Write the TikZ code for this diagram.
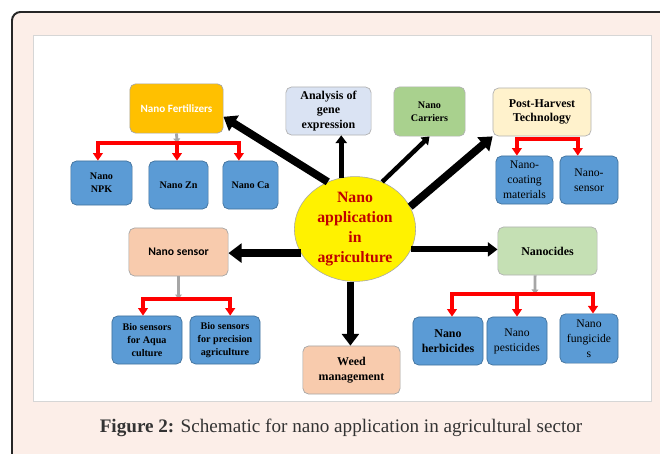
\documentclass[tikz,border=0pt]{standalone}
\usepackage{fontspec}
\setmainfont{Liberation Serif}
\newfontfamily\calibri{Carlito}
\usetikzlibrary{arrows.meta,positioning,calc,shapes.geometric}
\definecolor{framebg}{HTML}{FCEEE8}
\definecolor{framedraw}{HTML}{262626}
\definecolor{panelline}{HTML}{D6D6D6}
\definecolor{fertfill}{HTML}{FFC000}
\definecolor{bluefill}{HTML}{5B9BD5}
\definecolor{bluedraw}{HTML}{41719C}
\definecolor{genefill}{HTML}{DAE3F3}
\definecolor{carrfill}{HTML}{A9D18E}
\definecolor{postfill}{HTML}{FFF2CC}
\definecolor{peachfill}{HTML}{F8CBAD}
\definecolor{cidefill}{HTML}{C5E0B4}
\definecolor{corered}{HTML}{C00000}
\definecolor{captext}{HTML}{333333}

\begin{document}
\begin{tikzpicture}[x=0.025cm, y=-0.025cm,
  box/.style={draw=black!35, rounded corners=4pt, line width=0.5pt, align=center, inner sep=1pt, minimum height=1.2cm},
  leaf/.style={box, fill=bluefill, draw=bluedraw},
  sb/.style={font=\fontsize{7.2pt}{9.3pt}\selectfont\bfseries},
  mb/.style={font=\fontsize{8.5pt}{10.4pt}\selectfont\bfseries},
  mr/.style={font=\fontsize{8.3pt}{10.6pt}\selectfont},
  cb/.style={font=\calibri\fontsize{#1}{10pt}\selectfont\bfseries},
  blk/.style={line width=#1, black, -{Triangle[length=0pt 1.6, width=0pt 2.3]}},
  redarr/.style={line width=3pt, red, line join=miter, -{Triangle[length=0pt 1.8, width=0pt 2.3]}},
  redboth/.style={redarr, {Triangle[length=0pt 1.8, width=0pt 2.3]}-{Triangle[length=0pt 1.8, width=0pt 2.3]}},
  greyarr/.style={line width=2pt, black!35, -{Triangle[length=0pt 1.6, width=0pt 2.4]}}
]
\useasboundingbox (0,0) rectangle (660,454);
\clip (0,0) rectangle (660,454);
\draw[fill=framebg, draw=framedraw, line width=1.4pt, rounded corners=6pt] (12,12) rectangle (690,490);
\draw[fill=white, draw=panelline, line width=0.6pt] (33,35) rectangle (651,401);

\node[box, fill=fertfill, minimum width=2.33cm, minimum height=1.23cm, text=white, cb=7.9pt] (fert) at (176.5,108.5) {Nano Fertilizers};
\node[box, fill=genefill, draw=black!30, minimum width=2.13cm, mb] (gene) at (328.5,111) {Analysis of\\gene\\expression};
\node[box, fill=carrfill, draw=black!30, minimum width=1.78cm, minimum height=1.23cm, sb] (carr) at (429.5,111.5) {Nano\\Carriers};
\node[box, fill=postfill, draw=black!30, minimum width=2.45cm, mb] (post) at (542,112) {Post-Harvest\\Technology};
\node[leaf, minimum width=1.53cm, minimum height=1.1cm, sb] (npk) at (101.5,183) {Nano\\NPK};
\node[leaf, minimum width=1.48cm, sb] (zn) at (178.5,185) {Nano Zn};
\node[leaf, minimum width=1.38cm, sb] (ca) at (250.5,185) {Nano Ca};
\node[leaf, minimum width=1.43cm, mr] (coat) at (524.5,180) {Nano-\\coating\\materials};
\node[leaf, minimum width=1.45cm, mr] (nsen) at (589,180) {Nano-\\sensor};
\node[box, fill=peachfill, minimum width=2.48cm, cb=8.3pt] (sens) at (178.5,252) {Nano sensor};
\node[leaf, minimum width=1.75cm, sb] (aqua) at (147,340) {Bio sensors\\for Aqua\\culture};
\node[leaf, minimum width=1.75cm, sb] (prec) at (225,340) {Bio sensors\\for precision\\agriculture};
\node[box, fill=peachfill, minimum width=2.43cm, mb] (weed) at (351.5,370) {Weed\\management};
\node[box, fill=cidefill, draw=black!30, minimum width=2.48cm, mb] (cide) at (547.5,251) {Nanocides};
\node[leaf, minimum width=1.75cm, mb] (herb) at (448,341) {Nano\\herbicides};
\node[leaf, minimum width=1.5cm, mr] (pest) at (517,341) {Nano\\pesticides};
\node[leaf, minimum width=1.45cm, minimum height=1.23cm, mr] (fung) at (589,338.5) {Nano\\fungicide\\s};
\node[ellipse, draw=black!35, fill=yellow, minimum width=3.03cm, minimum height=2.48cm, inner sep=0pt, text=corered, align=center, font=\fontsize{11.2pt}{14.3pt}\selectfont\bfseries] (core) at (355,229) {Nano\\application\\in\\agriculture};

\draw[blk=5.5pt] (core.120) -- (fert.-10);
\draw[blk=3.4pt] (core.105) -- (core.105 |- gene.south);
\draw[blk=3.2pt] (core.60) -- (carr.south);
\draw[blk=5.5pt] (core.22) -- (post.south west);
\draw[blk=5.8pt] (core.204) -- (core.204 -| sens.east);
\draw[blk=4.3pt] (core.-20) -- (core.-20 -| cide.west);
\draw[blk=5.2pt] (core.265) -- (core.265 |- weed.north);

\coordinate (fbar) at (177,143);
\draw[greyarr] (fert.south) -- (fbar);
\draw[redboth] ([xshift=-0.09cm]npk.north) |- (fbar) -| ([xshift=-0.29cm]ca.north);
\draw[redarr] (fbar) -- (fbar |- zn.north);

\coordinate (pbar) at (547,139);
\draw[redboth] ([xshift=-0.19cm]coat.north) |- (pbar) -| ([xshift=-0.28cm]nsen.north);

\coordinate (sbar) at (sens.south |- 0,299);
\draw[greyarr] (sens.south) -- (sbar);
\draw[redboth] ([xshift=-0.1cm]aqua.north) |- (sbar) -| ([xshift=0.13cm]prec.north);

\coordinate (cbar) at (535,294);
\draw[greyarr] ([xshift=-0.31cm]cide.south) -- (cbar);
\draw[redboth] ([xshift=0.1cm]herb.north) |- (cbar) -| ([xshift=0.1cm]fung.north);
\draw[redarr] (pest.north |- cbar) -- (pest.north);

\node[font=\fontsize{13.6pt}{16pt}\selectfont, text=captext, inner sep=0pt] (cap) at (341,428) {\textbf{Figure 2:} Schematic for nano application in agricultural sector};
\end{tikzpicture}
\end{document}
